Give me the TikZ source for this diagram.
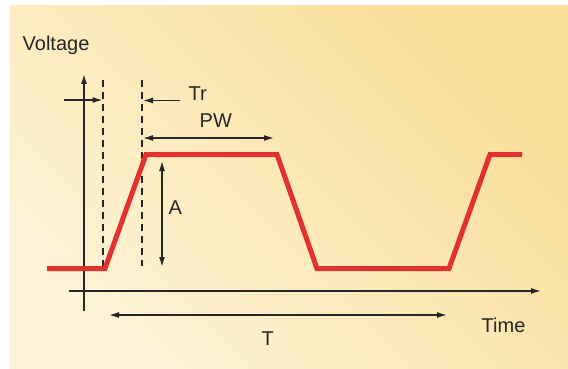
\documentclass[tikz,border=0pt]{standalone}
\usepackage{fontspec}
\setmainfont{Liberation Sans}
\usetikzlibrary{arrows.meta}
\definecolor{bglight}{HTML}{FDF3D6}
\definecolor{bgdark}{HTML}{F9DE98}
\definecolor{wave}{HTML}{E2322F}
\definecolor{ink}{HTML}{262626}
\begin{document}
\begin{tikzpicture}[x=1pt,y=-1pt,
  lbl/.style={inner sep=0pt,anchor=base west,text=ink,font=\fontsize{20}{24}\selectfont},
  axisline/.style={draw=ink,line width=1.4pt},
  dimline/.style={draw=ink,line width=1.3pt},
  tip/.style={-{Latex[length=10pt,width=6pt]}},
  tips/.style={{Latex[length=10pt,width=6pt]}-{Latex[length=10pt,width=6pt]}},
  dashline/.style={draw=ink,line width=1.3pt,dash pattern=on 7pt off 5pt},
  wavestyle/.style={draw=wave,line width=5pt,line join=miter}]
\useasboundingbox (0,0) rectangle (568,369);
\shade[bottom color=bglight,top color=bgdark,shading angle=-45] (10,369) rectangle (568,6);
% coordinates
\coordinate (w0) at (47,268.5);
\coordinate (w1) at (105,268.5);
\coordinate (w2) at (146,154.5);
\coordinate (w3) at (277,154.5);
\coordinate (w4) at (317,268.5);
\coordinate (w5) at (449,268.5);
\coordinate (w6) at (490,154.5);
\coordinate (w7) at (522,154.5);
\coordinate (ytop) at (84,74);
\coordinate (ybot) at (84,311);
\coordinate (xl) at (69,291);
\coordinate (xr) at (541,291);
\coordinate (d1t) at (103,80);
\coordinate (d1b) at (103,266);
\coordinate (d2t) at (142,80);
\coordinate (d2b) at (142,266);
\coordinate (tra) at (64,100);
\coordinate (trb) at (102.5,100);
\coordinate (trc) at (180,100.5);
\coordinate (trd) at (143,100.5);
\coordinate (pwa) at (143,138);
\coordinate (pwb) at (274,138);
\coordinate (aa) at (162,161);
\coordinate (ab) at (162,267);
\coordinate (ta) at (109,315);
\coordinate (tb) at (447,315);
% axes
\draw[axisline,tip] (ybot) -- (ytop);
\draw[axisline,tip] (xl) -- (xr);
% dashed guides
\draw[dashline] (d1t) -- (d1b);
\draw[dashline] (d2t) -- (d2b);
% waveform
\draw[wavestyle] (w0) -- (w1) -- (w2) -- (w3) -- (w4) -- (w5) -- (w6) -- (w7);
% dimension arrows
\draw[dimline,tip] (tra) -- (trb);
\draw[dimline,tip] (trc) -- (trd);
\draw[dimline,tips] (pwa) -- (pwb);
\draw[dimline,tips] (aa) -- (ab);
\draw[dimline,tips] (ta) -- (tb);
% labels
\node[lbl] (voltage) at (22.5,50.7) {Voltage};
\node[lbl] (tr) at (188.5,100.7) {Tr};
\node[lbl] (pw) at (199.5,127.7) {PW};
\node[lbl] (a) at (168.5,214) {A};
\node[lbl] (t) at (261.5,345) {T};
\node[lbl] (time) at (481.5,332) {Time};
\end{tikzpicture}
\end{document}
